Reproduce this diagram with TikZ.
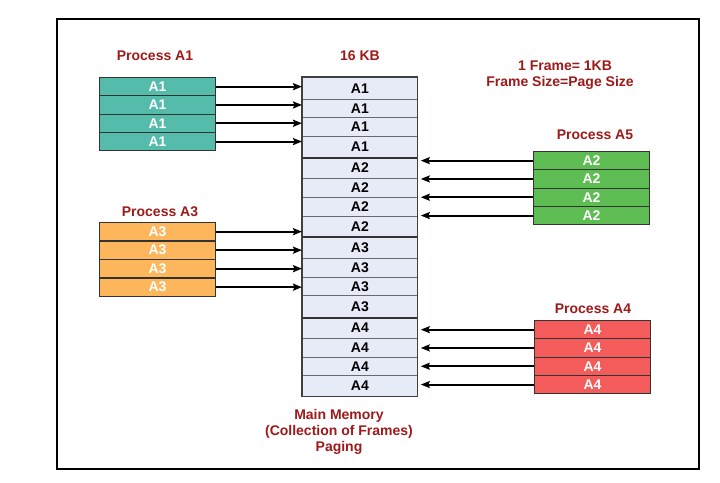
\documentclass[tikz,border=0pt]{standalone}
\usepackage{fontspec}
\setmainfont{Liberation Sans}
\usetikzlibrary{arrows.meta}
\definecolor{titlered}{HTML}{9E1A1A}
\definecolor{tealA}{HTML}{55BCAB}
\definecolor{greenA}{HTML}{5EBD52}
\definecolor{orangeA}{HTML}{FDB65C}
\definecolor{redA}{HTML}{F45B5B}
\definecolor{memfill}{HTML}{E7EAF7}
\definecolor{memline}{HTML}{6A6A6A}
\tikzset{
  prow/.style={draw=black!80, line width=1pt, minimum width=116, minimum height=18.3,
    inner sep=0pt, text=white, anchor=north west},
  mcell/.style={draw=memline, line width=0.8pt, fill=memfill, minimum width=115,
    inner sep=0pt, text=black, anchor=north west},
  lbl/.style={text=titlered, inner sep=0pt},
  arr/.style={line width=1.9pt, -{Stealth[length=9pt,width=7pt,inset=1.5pt]}},
  grpline/.style={line width=1.6pt, draw=black!80},
}
\begin{document}
\begin{tikzpicture}[x=1pt,y=-1pt,font=\fontsize{14}{16}\selectfont\bfseries]
\useasboundingbox (0,0) rectangle (720,482);
\fill[white] (0,0) rectangle (720,482);
\draw[line width=1.3pt] (57,19) rectangle (699,469);

% memory
\foreach \t/\b/\l/\n in {77/99/A1/m1,99/117/A1/m2,117/136/A1/m3,136/157/A1/m4,
  157/178/A2/m5,178/197/A2/m6,197/216/A2/m7,216/236/A2/m8,
  236/258/A3/m9,258/277/A3/m10,277/295/A3/m11,295/317/A3/m12,
  317/338/A4/m13,338/357/A4/m14,357/375/A4/m15,375/396/A4/m16}
  \node[mcell, minimum height=\b-\t] (\n) at (302,\t) {\l};
\draw[grpline] (m4.south west) -- (m4.south east);
\draw[grpline] (m8.south west) -- (m8.south east);
\draw[grpline] (m12.south west) -- (m12.south east);
\draw[line width=1.3pt, draw=black!75] (m1.north west) rectangle (m16.south east);

% processes
\foreach \i in {1,...,4} {
  \node[prow, fill=tealA] (a1r\i) at (99,{77+(\i-1)*18.3}) {A1};
  \node[prow, fill=orangeA] (a3r\i) at (99,{222+(\i-1)*18.5}) {A3};
  \node[prow, fill=greenA] (a5r\i) at (533,{151+(\i-1)*18.3}) {A2};
  \node[prow, fill=redA] (a4r\i) at (534,{320+(\i-1)*18.3}) {A4};
}
\foreach \i in {1,...,4} {
  \draw[arr] (a1r\i.east) -- (a1r\i.east -| m1.west);
  \draw[arr] (a3r\i.east) -- (a3r\i.east -| m1.west);
  \draw[arr] (a5r\i.west) -- ([xshift=3pt]a5r\i.west -| m1.east);
  \draw[arr] (a4r\i.west) -- ([xshift=3pt]a4r\i.west -| m1.east);
}

% labels
\node[lbl] (tA1) at (155,56) {Process A1};
\node[lbl] (tKB) at (360,56) {16 KB};
\node[lbl] (tF1) at (565,66) {1 Frame= 1KB};
\node[lbl] (tF2) at (560,83) {Frame Size=Page Size};
\node[lbl] (tA5) at (595,135) {Process A5};
\node[lbl] (tA3) at (160,212) {Process A3};
\node[lbl] (tA4) at (593,309) {Process A4};
\node[lbl, align=center] (tMM) at (339,432) {Main Memory\\(Collection of Frames)\\Paging};
\end{tikzpicture}
\end{document}
